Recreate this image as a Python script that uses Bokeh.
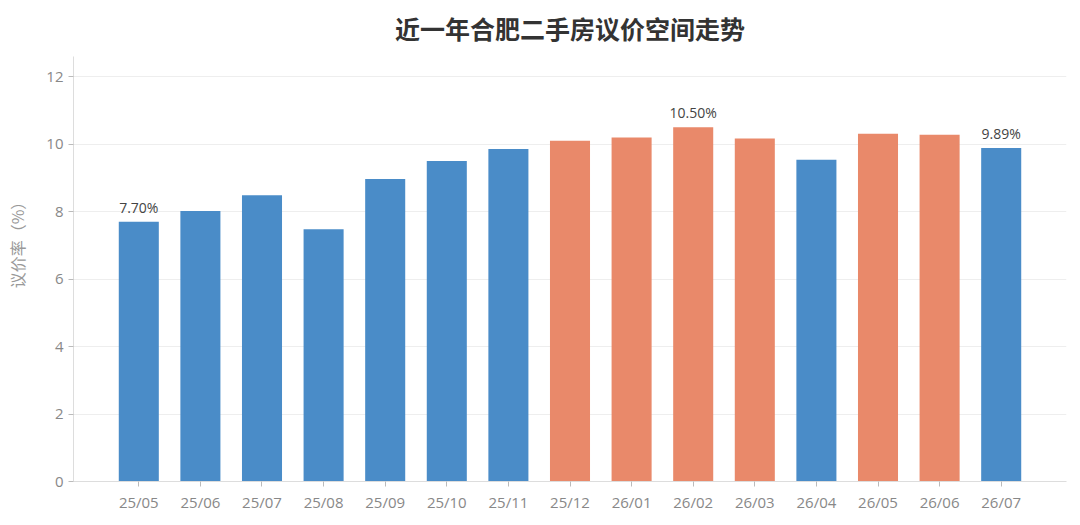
from bokeh.plotting import figure
from bokeh.models import ColumnDataSource, FactorRange, Range1d, FixedTicker, Label
from bokeh.core.properties import value
from bokeh.embed import file_html
from bokeh.resources import INLINE

title_text = "近一年合肥二手房议价空间走势"
months = ["25/05", "25/06", "25/07", "25/08", "25/09", "25/10", "25/11", "25/12",
          "26/01", "26/02", "26/03", "26/04", "26/05", "26/06", "26/07"]
rates = [7.70, 8.02, 8.49, 7.48, 8.97, 9.50, 9.86, 10.10,
         10.20, 10.50, 10.17, 9.54, 10.31, 10.28, 9.89]
highlight = [False, False, False, False, False, False, False, True,
             True, True, True, False, True, True, False]
label_months = ["25/05", "26/02", "26/07"]
y_ticks = [0, 2, 4, 6, 8, 10, 12]

BLUE = "#4A8CC8"
ORANGE = "#E9896A"
FONT = "Noto Sans CJK SC"
NUM_FONT = "Open Sans"

colors = [ORANGE if h else BLUE for h in highlight]
src = ColumnDataSource(dict(m=months, v=rates, c=colors))

lab_v = [rates[months.index(m)] for m in label_months]
lab_src = ColumnDataSource(dict(m=label_months, v=lab_v,
                                t=["%.2f%%" % x for x in lab_v]))

# axis area: value range 0..Y_MAX occupies 425px; the frame extends 56px higher to hold the title
Y_MAX = 12.6
AXIS_PX = 425
TOP_PX = 56
Y_TOP = Y_MAX * (AXIS_PX + TOP_PX) / AXIS_PX
TITLE_Y = Y_MAX * (AXIS_PX + 29) / AXIS_PX

p = figure(x_range=FactorRange(factors=months, range_padding=0.56, range_padding_units="absolute"),
           y_range=Range1d(0, Y_TOP),
           frame_width=993, frame_height=AXIS_PX + TOP_PX, output_backend="svg",
           toolbar_location=None,
           min_border_left=73, min_border_right=2, min_border_top=0, min_border_bottom=30)
p.title.visible = False

p.vbar(x="m", top="v", width=0.65, color="c", source=src, line_color=None)
p.text(x="m", y="v", text="t", source=lab_src, text_align="center", text_baseline="bottom",
       y_offset=-5, text_font=value(NUM_FONT), text_font_size="14px", text_color="#444444")

p.add_layout(Label(x=len(months) / 2, y=TITLE_Y, text=title_text,
                   text_align="center", text_baseline="middle",
                   text_font=FONT, text_font_size="25px", text_font_style="bold",
                   text_color="#333333"))

p.outline_line_color = None
p.xgrid.grid_line_color = None
p.ygrid.grid_line_color = "#EEEEEE"
p.yaxis.ticker = FixedTicker(ticks=y_ticks)
p.yaxis.bounds = (0, Y_MAX)
p.ygrid.bounds = (0, Y_MAX)
p.yaxis.axis_label = "议价率（%）"
p.yaxis.axis_label_text_font = FONT
p.yaxis.axis_label_text_font_style = "normal"
p.yaxis.axis_label_text_font_size = "16px"
p.yaxis.axis_label_text_color = "#999999"
p.yaxis.axis_label_standoff = 14

for ax in (p.xaxis, p.yaxis):
    ax.axis_line_color = "#DDDDDD"
    ax.major_tick_line_color = "#BBBBBB"
    ax.minor_tick_line_color = None
    ax.major_tick_in = 0
    ax.major_tick_out = 5
    ax.major_label_text_font = NUM_FONT
    ax.major_label_text_font_size = "15px"
    ax.major_label_text_color = "#888888"

open("out.html", "w").write(file_html(p, INLINE))
